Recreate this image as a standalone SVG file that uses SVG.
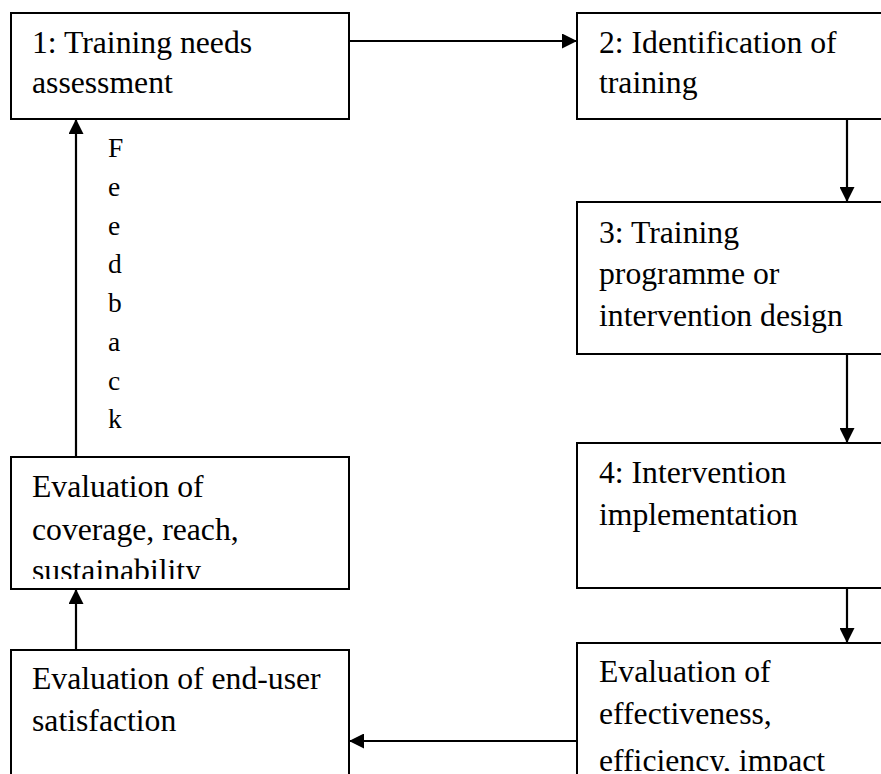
<svg xmlns="http://www.w3.org/2000/svg" width="881" height="774" viewBox="0 0 881 774">
<style>
.box{fill:#fff;stroke:#000;stroke-width:2}
.t{font-family:"Liberation Serif","Times New Roman",serif;font-size:31.7px;fill:#000}
.fb{font-family:"Liberation Serif","Times New Roman",serif;font-size:27.5px;fill:#000}
.c{stroke:#000;stroke-width:2.2;fill:none}
</style>
<defs>
<marker id="ah" markerWidth="15" markerHeight="15" refX="15" refY="7.5" orient="auto" markerUnits="userSpaceOnUse">
<path d="M0,0 L15,7.5 L0,15 Z" fill="#000"/>
</marker>
<clipPath id="clip6"><rect x="12" y="458" width="336" height="121"/></clipPath>
<clipPath id="clip5"><rect x="578" y="644" width="303" height="127"/></clipPath>
</defs>
<rect width="881" height="774" fill="#fff"/>
<g id="n1">
<rect class="box" x="11" y="13" width="338" height="106"/>
<text class="t" x="32" y="53">1: Training needs</text>
<text class="t" x="32" y="93">assessment</text>
</g>
<g id="n2">
<rect class="box" x="577" y="13" width="330" height="106"/>
<text class="t" x="599" y="53">2: Identification of</text>
<text class="t" x="599" y="93">training</text>
</g>
<g id="n3">
<rect class="box" x="577" y="202" width="330" height="152"/>
<text class="t" x="599" y="243">3: Training</text>
<text class="t" x="599" y="284">programme or</text>
<text class="t" x="599" y="326">intervention design</text>
</g>
<g id="n4">
<rect class="box" x="577" y="443" width="330" height="145"/>
<text class="t" x="599" y="483">4: Intervention</text>
<text class="t" x="599" y="525">implementation</text>
</g>
<g id="n5">
<rect class="box" x="577" y="643" width="330" height="160"/>
<g clip-path="url(#clip5)">
<text class="t" x="599" y="682">Evaluation of</text>
<text class="t" x="599" y="724">effectiveness,</text>
<text class="t" x="599" y="771">efficiency, impact</text>
</g>
</g>
<g id="n6">
<rect class="box" x="11" y="650" width="338" height="160"/>
<text class="t" x="32" y="689">Evaluation of end-user</text>
<text class="t" x="32" y="731">satisfaction</text>
</g>
<g id="n7">
<rect class="box" x="11" y="457" width="338" height="132"/>
<g clip-path="url(#clip6)">
<text class="t" x="32" y="497">Evaluation of</text>
<text class="t" x="32" y="540">coverage, reach,</text>
<text class="t" x="32" y="581">sustainability</text>
</g>
</g>
<g id="connectors">
<line class="c" x1="349" y1="41" x2="577" y2="41" marker-end="url(#ah)"/>
<line class="c" x1="847" y1="119" x2="847" y2="202" marker-end="url(#ah)"/>
<line class="c" x1="847" y1="354" x2="847" y2="443" marker-end="url(#ah)"/>
<line class="c" x1="847" y1="588" x2="847" y2="643" marker-end="url(#ah)"/>
<line class="c" x1="577" y1="741" x2="349" y2="741" marker-end="url(#ah)"/>
<line class="c" x1="76" y1="650" x2="76" y2="589" marker-end="url(#ah)"/>
<line class="c" x1="76" y1="457" x2="76" y2="119" marker-end="url(#ah)"/>
</g>
<g id="feedback-label">
<text class="fb" x="108" y="157">F</text>
<text class="fb" x="108" y="196">e</text>
<text class="fb" x="108" y="235">e</text>
<text class="fb" x="108" y="273">d</text>
<text class="fb" x="108" y="312">b</text>
<text class="fb" x="108" y="351">a</text>
<text class="fb" x="108" y="390">c</text>
<text class="fb" x="108" y="428">k</text>
</g>
</svg>
